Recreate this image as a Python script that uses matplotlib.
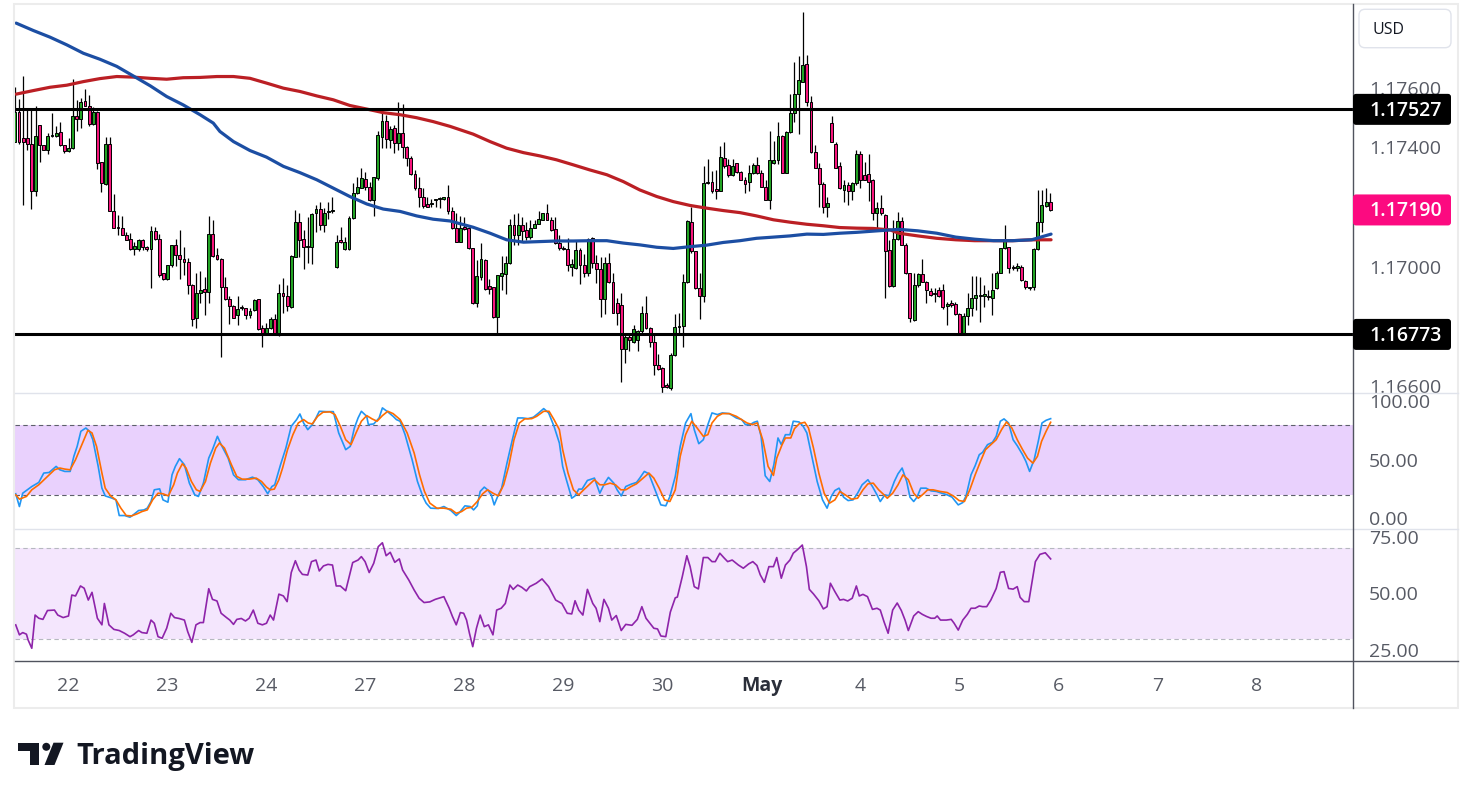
import numpy as np
import matplotlib
matplotlib.use('Agg')
import matplotlib.pyplot as plt
from matplotlib.patches import FancyBboxPatch, Rectangle, Circle, Polygon
from matplotlib.lines import Line2D
from matplotlib.transforms import IdentityTransform

plt.rcParams['font.family'] = ['Open Sans', 'DejaVu Sans']

# ---------------- data (hourly EUR/USD-like candles, prices in 1e-5 units) ----------------
open_pts = [117419,117518,117432,117432,117412,117255,117476,117406,117390,117438,117439,117450,117406,117386,117397,117506,
 117494,117556,117539,117478,117518,117350,117276,117410,117188,117131,117129,117105,117092,117058,117058,117090,117065,117058,
 117120,117092,116978,116958,117004,117072,117038,117027,117017,116939,116827,116911,116926,116914,117109,117038,117027,116931,
 116891,116868,116838,116864,116861,116837,116855,116891,116794,116779,116794,116823,116779,116911,116902,116864,117034,117149,
 117092,117065,117067,117179,117194,117138,117182,117187,117000,117090,117058,117058,117162,117246,117265,117293,117268,117224,
 117296,117436,117489,117425,117465,117414,117447,117400,117363,117311,117263,117233,117210,117210,117222,117227,117226,117232,
 117188,117131,117084,117134,117131,117062,116878,116967,117023,116935,116931,116831,116969,116976,117011,117139,117106,117139,
 117123,117099,117131,117143,117157,117179,117157,117125,117078,117064,117058,117000,116997,117056,117004,116978,117095,117011,
 116992,116891,117011,116948,116878,116872,116723,116763,116749,116754,116783,116846,116794,116747,116671,116662,116604,116593,
 116704,116797,116802,116947,117151,117051,116928,116900,117280,117285,117257,117255,117363,117339,117307,117347,117317,117291,
 117282,117313,117341,117313,117268,117224,117347,117358,117438,117315,117451,117514,117578,117620,117678,117550,117384,117332,
 117276,117199,117481,117412,117336,117257,117272,117254,117280,117378,117307,117311,117291,117179,117196,117174,117056,116936,
 117092,117153,117073,116978,116821,116937,116976,116950,116917,116911,116922,116922,116868,116878,116875,116842,116777,116833,
 116861,116894,116900,116902,116902,116894,116928,116980,117062,117067,117000,116995,117000,116953,116928,116931,117058,117151,
 117204,117218]
high_pts = [117601,117562,117639,117525,117525,117537,117476,117408,117447,117514,117470,117484,117408,117430,117628,117559,
 117565,117595,117576,117535,117520,117352,117436,117436,117244,117174,117171,117117,117112,117081,117092,117092,117070,117137,
 117132,117109,116980,117006,117072,117094,117123,117067,117030,116941,116978,116986,116967,117170,117157,117062,117029,116967,
 116900,116871,116902,116871,116863,116861,116892,116892,116805,116811,116830,116841,116942,116962,116939,117040,117190,117179,
 117123,117168,117179,117205,117218,117196,117218,117235,117106,117134,117099,117170,117280,117302,117331,117317,117285,117300,
 117456,117518,117509,117470,117475,117552,117544,117403,117371,117324,117302,117263,117233,117226,117226,117232,117235,117274,
 117201,117181,117170,117166,117134,117064,117023,117078,117025,116958,116933,116972,117036,117036,117160,117177,117181,117168,
 117151,117157,117155,117188,117179,117210,117168,117168,117106,117070,117095,117025,117088,117062,117043,117095,117099,117040,
 117034,117034,117045,116978,116894,116911,116774,116777,116805,116788,116869,116900,116799,116771,116708,116665,116609,116710,
 116841,116844,116976,117157,117199,117053,116978,117338,117360,117322,117324,117405,117419,117360,117360,117347,117319,117302,
 117341,117347,117369,117324,117291,117455,117421,117485,117441,117453,117578,117687,117706,117852,117710,117573,117406,117347,
 117285,117233,117505,117419,117352,117291,117285,117285,117391,117386,117349,117378,117293,117218,117241,117176,117090,117157,
 117184,117168,117078,116980,116978,116980,117025,116952,116928,116928,116933,116942,116883,116889,116883,116844,116844,116911,
 116969,116969,116967,116939,116922,116980,116984,117064,117140,117067,117006,117011,117006,116956,116933,117062,117257,117257,
 117263,117248]
low_pts = [117416,117412,117205,117391,117193,117238,117352,117390,117378,117436,117436,117403,117380,117385,117394,117454,
 117463,117537,117470,117475,117328,117250,117274,117188,117128,117105,117105,117088,117056,117038,117054,117056,117054,116927,
 117090,116965,116956,116956,117000,117002,116958,116971,116908,116802,116794,116878,116838,116878,117034,117023,116697,116889,
 116808,116827,116805,116855,116823,116827,116852,116788,116732,116777,116792,116777,116768,116844,116850,116861,117032,117032,
 116991,117011,117009,117115,117123,117115,117159,117179,116997,117079,117056,117056,117159,117244,117263,117257,117221,117170,
 117291,117397,117397,117397,117382,117391,117363,117336,117307,117257,117201,117196,117199,117201,117201,117196,117224,117177,
 117125,117084,117084,117123,117058,116876,116865,116956,116922,116909,116827,116779,116922,116909,117009,117073,117073,117084,
 117088,117092,117129,117142,117155,117155,117121,117076,117056,117056,116987,116969,116991,116942,116965,116969,116995,116944,
 116832,116842,116944,116844,116805,116615,116676,116716,116743,116719,116777,116792,116732,116637,116654,116576,116593,116587,
 116701,116777,116732,116944,117045,116924,116824,116880,117277,117248,117226,117252,117332,117302,117305,117315,117289,117248,
 117254,117311,117310,117266,117224,117193,117344,117344,117313,117313,117447,117486,117444,117618,117537,117380,117330,117201,
 117179,117168,117416,117330,117260,117218,117207,117224,117274,117263,117289,117221,117157,117120,117174,116894,116933,116931,
 117090,117071,116976,116816,116819,116933,116947,116878,116902,116883,116898,116857,116805,116866,116838,116775,116775,116805,
 116833,116855,116816,116866,116889,116838,116924,116978,117058,116978,116989,116984,116953,116924,116922,116922,117056,117115,
 117201,117185]
close_pts = [117518,117416,117416,117412,117255,117439,117406,117390,117439,117441,117447,117406,117386,117397,117506,117494,
 117553,117539,117478,117518,117347,117280,117410,117188,117131,117128,117106,117090,117058,117070,117088,117065,117058,117120,
 117092,116972,116958,117006,117072,117038,117027,117017,116939,116825,116911,116922,116914,117109,117036,117025,116931,116893,
 116868,116827,116857,116861,116838,116853,116889,116790,116779,116794,116823,116779,116911,116900,116868,117036,117149,117090,
 117067,117070,117176,117194,117140,117179,117188,117189,117082,117082,117082,117162,117246,117266,117296,117268,117224,117300,
 117442,117489,117428,117462,117414,117447,117400,117363,117310,117263,117233,117204,117201,117213,117224,117228,117232,117188,
 117129,117084,117131,117127,117062,116878,116969,117025,116924,116924,116831,116972,116978,117011,117139,117106,117139,117118,
 117100,117128,117143,117160,117179,117157,117123,117078,117062,117058,117006,117008,117056,117004,116978,117092,117011,116992,
 116891,117011,116950,116846,116846,116723,116765,116754,116790,116783,116846,116794,116747,116671,116656,116598,116596,116704,
 116797,116802,116947,117153,117051,116928,116902,117280,117285,117255,117255,117369,117336,117307,117336,117317,117291,117276,
 117313,117341,117313,117268,117224,117358,117358,117438,117315,117451,117514,117578,117626,117674,117550,117384,117332,117276,
 117199,117213,117419,117332,117263,117274,117254,117280,117378,117291,117291,117285,117179,117196,117179,117051,116936,117092,
 117153,117073,116978,116827,116939,116976,116950,116922,116905,116909,116900,116864,116875,116872,116842,116777,116835,116861,
 116894,116905,116905,116908,116897,116922,116980,117062,117092,116995,116995,117003,116956,116931,116933,117058,117151,117207,
 117218,117190]

# moving averages (read as polyline vertices: bar position, price in 1e-5 units)
ma_fast_x = [0.3,4.5,8.5,12.6,16.6,20.6,24.7,28.7,32.8,36.8,40.8,44.9,48.1,49.7,53,57,61,65.1,69.1,73.2,77.2,81.2,85.3,89.3,
 93.4,97.4,101.4,105.5,111.1,115.2,119.2,123.3,127.3,131.3,135.4,139.4,143.5,147.5,151.5,155.6,159.6,163.7,167.7,171.7,175.8,
 179.8,183.9,187.9,192,196,200,204.1,208.1,212.2,214.3,218.9,223.5,228.1,232.7,237.3,241.9,246.5,249.2,251.2]
ma_fast_pts = [117816,117791,117769,117743,117715,117695,117671,117639,117606,117570,117542,117509,117481,117453,117419,117389,
 117367,117336,117315,117291,117263,117235,117210,117193,117185,117170,117159,117153,117132,117112,117090,117082,117084,117086,
 117086,117087,117087,117079,117073,117065,117061,117067,117072,117081,117087,117095,117099,117103,117109,117108,117112,117115,
 117119,117123,117125,117120,117112,117099,117092,117087,117087,117090,117101,117109]
ma_slow_x = [0.3,4.5,8.5,12.6,16.6,20.6,24.7,28.7,32.8,36.8,40.8,44.9,49,53,57,61,65.1,69.1,73.2,77.2,81.2,85.3,89.3,93.4,
 97.4,101.4,105.5,111.1,115.2,119.2,123.3,127.3,131.3,135.4,139.4,143.5,147.5,151.5,155.6,159.6,163.7,167.7,171.7,175.8,179.8,
 183.9,187.9,192,196,200,204.1,208.1,212.2,214.3,218.9,223.5,228.1,232.7,237.3,241.9,246.5,251.2]
ma_slow_pts = [117578,117590,117601,117608,117620,117630,117637,117635,117631,117628,117633,117634,117637,117637,117631,117615,
 117598,117587,117572,117559,117540,117528,117516,117509,117499,117486,117470,117444,117419,117397,117382,117371,117358,117341,
 117324,117308,117285,117257,117235,117218,117205,117196,117188,117181,117170,117157,117149,117142,117137,117131,117129,117128,
 117123,117112,117103,117095,117090,117087,117087,117087,117090,117090]

resistance = 1.17527
support = 1.16773
last_price = 1.17190

# stochastic %K / %D (bar position, value)
stoch_k_x = [0.2,1.1,1.9,4.1,5.8,7.0,8.3,10.0,10.9,12.1,13.4,14.3,15.1,16.0,17.2,18.1,18.9,20.2,21.1,21.9,23.6,24.5,25.3,26.6,
 27.9,28.7,30.0,31.3,32.1,33.0,33.8,35.1,35.9,37.1,38.1,38.9,39.9,41.1,42.3,43.6,44.5,45.7,47.0,47.9,49.1,50.0,51.7,53.0,54.2,
 55.9,57.6,58.9,60.2,61.3,62.3,63.0,64.4,65.7,67.0,68.3,69.1,70.0,71.0,72.1,73.0,73.8,75.5,77.2,78.5,80.2,81.3,82.3,83.2,84.0,
 85.3,85.7,87.0,88.3,89.1,90.4,91.7,92.5,93.4,94.6,96.3,97.6,98.9,99.7,100.8,102.7,104.0,105.7,107.0,107.8,109.1,110.4,111.2,
 112.1,112.8,113.8,114.6,115.5,116.2,117.2,118.0,119.3,120.6,121.9,123.1,124.4,125.7,127.0,128.2,129.4,130.7,132.0,132.8,133.7,
 135.0,135.8,136.7,137.5,138.8,140.5,141.8,143.0,143.9,145.2,146.0,147.0,148.1,149.4,150.7,151.5,152.6,153.7,154.9,156.6,157.8,
 158.8,160.1,161.3,162.6,163.9,164.7,165.8,166.9,168.0,169.0,170.3,171.5,173.2,174.9,176.2,177.1,178.2,179.2,180.0,180.9,181.9,
 183.0,184.0,185.0,185.8,186.8,187.9,188.7,190.1,191.1,192.0,193.2,194.5,195.8,196.9,197.9,198.8,199.8,200.9,202.0,203.2,204.3,
 205.4,206.8,207.9,209.0,209.8,210.9,211.9,213.2,214.1,215.1,216.2,217.0,217.9,218.7,219.6,220.9,222.1,223.4,224.7,226.0,227.2,
 228.7,229.8,230.6,231.8,232.8,233.8,234.6,235.8,237.0,237.9,238.9,239.8,240.9,242.0,243.0,244.3,245.1,246.0,247.1,248.1,249.0,
 250.0,251.1]
stoch_k = [20.9,10.0,21.4,27.1,30.6,38.6,39.1,44.3,41.4,40.0,40.0,52.9,61.4,74.3,77.1,74.3,67.1,44.3,25.7,19.1,17.1,15.7,2.3,2.3,
 0.9,2.9,6.6,7.1,8.6,14.3,24.3,25.1,15.7,13.7,37.1,44.3,50.9,45.7,30.0,20.0,18.6,30.0,51.4,58.6,70.0,62.9,51.4,37.1,32.9,32.9,
 35.1,32.9,27.1,20.9,27.1,28.6,45.7,60.0,78.6,84.3,89.1,81.4,75.7,80.0,85.7,91.4,91.1,91.1,72.9,58.6,61.4,77.1,85.7,91.4,87.1,
 80.0,80.6,85.7,94.3,90.9,87.1,84.3,82.9,71.4,50.0,31.4,18.6,12.9,8.6,8.3,10.0,6.6,2.3,4.9,10.6,10.0,7.1,10.6,22.9,26.6,24.3,
 20.0,11.4,20.0,25.7,47.1,67.1,85.7,85.7,85.1,86.3,90.0,93.7,90.0,78.6,64.3,44.3,32.9,17.1,19.1,24.9,24.9,32.3,34.3,21.4,30.0,
 34.9,30.0,24.3,19.1,27.1,29.1,30.6,34.3,40.0,38.0,27.1,11.4,10.6,18.6,35.7,61.4,81.4,89.4,75.7,63.7,67.1,80.0,90.0,88.6,90.0,
 89.4,85.7,84.3,80.0,80.0,82.0,82.9,70.0,36.3,31.4,45.7,68.6,62.9,71.4,71.4,82.9,82.3,78.6,72.9,52.9,31.4,15.7,8.6,18.6,23.7,
 25.7,18.0,15.1,15.7,21.4,28.6,32.9,27.1,20.0,14.3,20.0,19.1,31.4,38.0,42.9,31.4,18.0,14.3,18.0,25.7,25.7,23.4,22.9,21.4,20.0,
 18.0,11.4,13.4,19.1,37.1,44.9,54.3,56.3,62.9,64.9,70.0,82.9,84.9,81.4,67.1,62.0,54.3,48.6,40.0,50.0,65.7,81.4,83.7,85.1]
stoch_d_x = [0.2,1.1,2.8,4.1,5.8,7.5,9.6,10.9,12.1,13.4,14.7,16.4,17.7,18.7,19.8,21.1,21.9,23.2,24.5,25.7,27.0,28.3,29.6,30.8,
 32.1,33.4,34.7,35.9,37.2,38.5,39.4,40.6,41.5,42.8,44.0,44.9,46.2,47.4,48.7,49.6,50.8,52.5,53.8,55.1,56.8,58.5,59.8,61.0,61.9,
 62.9,64.0,64.9,66.1,67.4,68.7,70.0,71.1,72.1,73.4,74.7,76.4,77.6,78.9,80.2,81.5,82.7,84.0,85.3,86.6,87.8,89.1,90.4,91.7,93.4,
 95.1,96.8,98.1,99.3,100.6,102.3,104.0,105.7,107.0,108.3,109.5,110.8,112.1,113.4,114.6,115.9,117.2,118.5,119.7,121.0,122.3,
 123.6,125.3,126.5,128.2,129.5,130.7,132.0,132.8,134.1,135.4,136.7,137.9,139.2,140.5,141.8,143.0,144.3,145.6,146.9,148.1,149.4,
 150.7,152.0,153.7,154.9,156.2,157.5,158.8,160.1,161.3,162.6,164.1,165.4,166.9,168.0,169.0,170.3,171.5,173.2,174.9,176.2,177.5,
 178.8,180.0,181.3,182.6,183.9,184.7,186.0,186.8,188.1,189.0,190.2,191.5,192.4,193.6,194.9,196.2,197.5,198.8,200.0,201.3,202.8,
 204.3,205.6,206.8,208.1,209.4,210.7,211.5,212.8,214.1,215.3,216.6,217.9,219.0,220.0,221.3,222.6,224.3,226.0,227.7,228.9,230.2,
 231.5,232.8,234.1,235.3,236.6,237.9,239.2,240.4,241.7,243.0,244.3,245.5,246.8,247.9,248.9,250.0,251.1]
stoch_d = [20.0,16.3,18.6,24.3,28.6,34.3,41.4,42.9,42.0,41.4,50.0,64.3,75.1,72.9,61.4,38.6,25.7,19.1,15.7,8.6,2.3,2.0,3.7,5.7,
 7.1,15.7,21.4,20.9,19.1,28.6,38.6,46.6,42.9,31.4,24.3,22.9,31.4,47.1,60.0,64.3,60.0,45.7,35.7,33.4,33.4,34.3,31.4,26.6,24.3,
 24.9,32.9,42.9,58.6,71.4,81.4,84.3,81.4,80.6,87.1,90.6,90.9,88.6,78.6,67.1,62.9,72.9,82.9,87.7,84.9,82.9,87.7,91.4,89.4,84.3,
 72.9,55.7,37.1,22.9,12.9,8.6,8.6,7.7,4.3,5.7,8.6,9.4,14.3,20.9,24.3,21.4,19.1,28.6,44.3,67.1,81.4,84.9,85.1,87.1,91.4,91.4,
 84.3,75.7,58.6,38.6,24.3,20.0,24.3,28.6,32.9,28.6,28.6,30.0,28.6,24.3,24.3,27.1,29.4,33.4,38.6,34.3,25.7,15.7,14.3,24.3,52.9,
 71.4,82.9,77.1,70.0,71.4,81.4,87.1,89.4,89.4,87.1,84.3,81.4,80.0,81.4,67.1,44.3,36.6,51.4,62.9,68.6,68.6,76.6,80.9,82.0,77.1,
 60.0,38.6,21.4,12.9,15.7,22.9,20.0,16.3,17.1,24.3,29.4,30.0,24.3,20.0,17.1,21.4,28.6,37.1,32.9,21.4,17.1,20.0,24.3,24.3,22.9,
 22.0,18.6,15.1,14.3,24.3,37.1,48.6,58.6,62.9,67.1,75.7,82.3,77.1,67.1,58.6,51.4,47.1,52.9,65.7,74.3,82.0]

# RSI (bar position, value)
rsi_x = [0.2,1.1,1.9,2.8,3.2,4.1,4.9,5.8,6.8,7.9,9.6,10.4,11.7,13.0,13.8,14.7,15.9,16.8,17.8,18.7,20.0,21.1,21.7,22.8,24.0,25.3,
 26.6,27.9,28.7,30.0,30.8,32.0,33.0,33.8,34.7,35.7,36.8,37.8,38.7,39.8,41.1,41.9,42.9,43.9,44.9,45.7,47.0,47.9,49.0,50.0,51.3,
 52.1,53.0,53.8,54.9,55.9,56.8,57.8,58.9,60.0,61.0,61.9,62.7,64.0,65.1,66.0,67.0,68.0,68.9,69.7,71.0,71.9,73.0,73.8,74.8,75.9,
 77.0,77.9,78.9,80.2,81.9,83.2,84.0,84.9,85.9,87.0,88.1,89.1,90.0,91.0,92.1,93.2,94.0,95.5,96.8,98.0,99.2,100.6,101.9,104.0,
 105.3,106.1,107.0,108.0,108.8,109.5,110.2,111.0,111.9,112.8,113.8,114.8,115.9,116.8,117.9,118.9,120.0,120.8,121.9,122.9,124.0,
 124.8,126.4,127.8,129.4,131.1,132.6,133.9,135.0,135.8,136.7,137.7,138.8,140.1,140.9,141.8,142.8,143.9,144.7,145.8,147.0,148.1,
 149.6,150.9,152.0,153.0,154.9,155.8,156.6,157.8,158.9,160.1,160.6,161.8,162.9,163.7,164.7,165.7,166.9,168.0,169.0,169.8,170.9,
 172.0,172.8,173.9,175.4,176.6,177.9,178.9,179.9,180.7,181.7,182.8,183.9,184.7,185.8,186.8,187.9,188.7,189.8,190.9,191.9,192.6,
 193.6,194.9,196.0,196.9,197.7,198.8,200.0,200.9,201.9,203.0,204.0,204.7,205.6,206.7,207.9,209.0,209.8,210.7,211.7,212.8,213.9,
 214.9,215.8,216.6,217.9,219.0,220.0,221.0,222.1,223.0,223.6,224.4,225.8,227.0,227.7,228.7,229.8,230.9,231.8,232.8,233.8,234.6,
 235.6,236.6,237.9,238.9,239.8,240.9,242.0,243.0,243.7,244.7,245.8,246.6,247.4,248.5,249.8,251.1]
rsi = [36.2,31.8,32.8,32.1,29.6,25.9,40.5,39.1,38.6,42.5,42.7,40.5,39.4,40.1,49.3,48.9,53.3,52.3,47.1,50.5,39.1,36.2,45.6,36.2,
 34.2,33.7,32.5,31.0,31.8,33.7,32.8,32.5,38.3,36.9,31.0,30.3,34.7,41.3,39.4,39.0,38.3,33.2,28.5,36.2,37.2,37.2,52.1,47.4,46.7,
 41.3,39.4,38.3,36.4,38.6,39.0,37.9,39.1,42.7,36.9,36.2,36.9,40.5,38.3,49.7,48.9,46.4,59.2,64.4,60.3,58.4,58.1,64.0,64.7,59.9,
 62.1,62.8,62.5,53.3,53.3,51.2,63.6,64.7,66.2,64.0,59.2,63.3,70.6,72.3,66.6,68.1,63.7,65.2,60.3,55.9,51.5,47.9,46.0,46.3,47.4,
 48.6,43.5,39.8,36.2,41.6,41.3,38.3,32.5,26.6,34.7,40.5,35.4,36.2,31.8,42.7,43.5,45.6,53.7,51.8,53.7,52.7,51.1,53.0,54.5,56.4,
 53.0,47.1,45.6,41.3,41.0,46.8,42.7,40.5,51.8,45.6,43.5,37.6,47.4,43.5,38.3,40.3,33.7,36.4,36.0,38.6,44.2,39.1,34.7,34.4,31.3,
 31.0,41.8,48.1,48.4,57.4,66.6,61.8,53.0,52.0,65.8,65.8,64.0,64.0,67.7,65.5,64.0,64.7,62.5,61.1,63.0,64.0,62.3,58.2,54.9,61.8,
 61.8,65.8,56.7,62.5,64.7,67.7,69.4,71.3,61.8,51.8,49.8,46.8,43.2,44.2,54.5,50.8,47.1,47.4,46.7,47.9,53.3,48.9,49.6,48.6,43.0,
 43.5,42.7,37.6,32.5,42.7,45.8,42.5,38.3,33.7,40.1,42.0,40.8,39.9,39.1,39.1,40.1,38.3,38.3,38.6,36.9,33.9,38.3,40.8,43.5,43.5,
 44.5,44.2,44.2,47.1,52.2,59.3,59.6,52.2,51.9,53.0,48.3,46.4,46.4,55.2,64.0,67.2,67.9,65.2]

day_ticks = [13, 37, 61, 85, 109, 133, 157, 181, 205, 229, 253, 277, 301]
day_labels = ['22', '23', '24', '27', '28', '29', '30', 'May', '4', '5', '6', '7', '8']
price_ticks = [1.166, 1.170, 1.174, 1.176]
stoch_ticks = [0, 50, 100]
rsi_ticks = [25, 50, 75]

# ---------------- figure ----------------
W, H = 1473, 799
fig = plt.figure(figsize=(W / 100, H / 100), dpi=100)
fig.patch.set_facecolor('white')

def rect(x0, y0, x1, y1):
    return [x0 / W, 1 - y1 / H, (x1 - x0) / W, (y1 - y0) / H]

PT = 1e-5
o = np.array(open_pts) * PT
h = np.array(high_pts) * PT
l = np.array(low_pts) * PT
c = np.array(close_pts) * PT
x = np.arange(len(o))

XL = (0.03, 324.4)
GREEN = '#22a324'
PINK = '#f7157c'
TXT = '#575a64'

ax = fig.add_axes(rect(15, 4, 1353, 393.5))
ax2 = fig.add_axes(rect(15, 393.5, 1353, 529))
ax3 = fig.add_axes(rect(15, 529, 1353, 661))
for a in (ax, ax2, ax3):
    a.set_xlim(*XL)
    a.set_xticks([]); a.set_yticks([])
    for s in a.spines.values():
        s.set_visible(False)
    a.set_facecolor('none')

ax.set_ylim(1.16575, 1.17880)
ax2.set_ylim(-9.2, 106.6)
ax3.set_ylim(20.3, 78.35)

# candles
up = c >= o
cols = np.where(up, GREEN, PINK)
bot = np.minimum(o, c)
hgt = np.maximum(np.abs(c - o), 0.000035)
ax.vlines(x, l, h, color='black', lw=0.9, zorder=2)
ax.bar(x, hgt, bottom=bot, width=0.72, color=cols, edgecolor='black', linewidth=0.7, zorder=3)

# moving averages
ax.plot(ma_slow_x, np.array(ma_slow_pts) * PT, color='#bb1f24', lw=2.3, zorder=4, solid_capstyle='round')
ax.plot(ma_fast_x, np.array(ma_fast_pts) * PT, color='#1c4ea3', lw=2.3, zorder=4, solid_capstyle='round')

# support / resistance
ax.axhline(resistance, color='black', lw=2.2, zorder=5)
ax.axhline(support, color='black', lw=2.2, zorder=5)

# stochastic
ax2.axhspan(20, 80, color='#e9d1fd', lw=0, zorder=0)
for v in (20, 80):
    ax2.axhline(v, color='#5d606b', lw=0.8, ls=(0, (4, 3)), zorder=1)
ax2.plot(stoch_k_x, stoch_k, color='#2196f3', lw=1.2, zorder=3)
ax2.plot(stoch_d_x, stoch_d, color='#ff6d00', lw=1.2, zorder=4)

# RSI
ax3.axhspan(30, 70, color='#f4e6fd', lw=0, zorder=0)
for v in (30, 70):
    ax3.axhline(v, color='#b6b8c0', lw=0.8, ls=(0, (4, 3)), zorder=1)
ax3.plot(rsi_x, rsi, color='#8e24aa', lw=1.2, zorder=3)

# ---------------- frame & separators ----------------
fig.add_artist(Rectangle((14 / W, 1 - 708 / H), (1458 - 14) / W, (708 - 3.5) / H,
                         transform=fig.transFigure, fill=False, edgecolor='#ececec', lw=1.5))
for yy in (393.5, 529):
    fig.add_artist(Line2D([15 / W, 1458 / W], [1 - yy / H] * 2, transform=fig.transFigure, color='#e0e3eb', lw=1))
fig.add_artist(Line2D([15 / W, 1458 / W], [1 - 661 / H] * 2, transform=fig.transFigure, color='#50535e', lw=1))
fig.add_artist(Line2D([1353 / W] * 2, [1 - 4 / H, 1 - 708 / H], transform=fig.transFigure, color='#50535e', lw=1))

fig.canvas.draw()

def ypix(a, v):
    return a.transData.transform((0, v))[1]

def xpix(a, v):
    return a.transData.transform((v, 0))[0]

LBL_X = 1369 / W
FS = 14
DY = 2.0   # small downward nudge of label text (pixels)
for t in price_ticks:
    fig.text(LBL_X, (ypix(ax, t) - DY) / H, f'{t:.5f}', fontsize=FS, color=TXT, ha='left', va='center', zorder=1)
for t in stoch_ticks:
    fig.text(LBL_X, (ypix(ax2, t) - DY) / H, f'{t:.2f}', fontsize=FS, color=TXT, ha='left', va='center', zorder=1)
for t in rsi_ticks:
    fig.text(LBL_X, (ypix(ax3, t) - DY) / H, f'{t:.2f}', fontsize=FS, color=TXT, ha='left', va='center', zorder=1)

def price_box(v, color):
    yp = ypix(ax, v)
    fig.add_artist(FancyBboxPatch((1353, yp - 15.5), 98, 31, boxstyle='round,pad=0,rounding_size=3',
                                  transform=IdentityTransform(), facecolor=color, edgecolor='none', zorder=5))
    fig.text(LBL_X, (yp - 1.5) / H, f'{v:.5f}', fontsize=FS, color='white', ha='left', va='center', zorder=6,
             fontweight='semibold')

price_box(resistance, 'black')
price_box(last_price, '#fc0a80')
price_box(support, 'black')

# USD box
fig.add_artist(FancyBboxPatch((1359, H - 47.7), 92, 38.4, boxstyle='round,pad=0,rounding_size=6',
                              transform=IdentityTransform(), facecolor='white', edgecolor='#e0e3eb', lw=1, zorder=5))
fig.text(1373 / W, 1 - 30 / H, 'USD', fontsize=11.5, color='#131722', ha='left', va='center', zorder=6)

# x-axis day labels
for t, lab in zip(day_ticks, day_labels):
    fig.text(xpix(ax3, t) / W, 1 - 686 / H, lab, fontsize=FS, color=TXT if lab != 'May' else '#2a2e39',
             ha='center', va='center', fontweight='bold' if lab == 'May' else 'normal')

# TradingView logo
INK = '#131722'
fig.add_artist(Polygon([(18.3, H - 742.7), (39.3, H - 742.7), (39.3, H - 765), (30, H - 765), (30, H - 750.7),
                        (18.3, H - 750.7)], closed=True, transform=IdentityTransform(), facecolor=INK,
                       edgecolor='none'))
fig.add_artist(Circle((46.3, H - 746.8), 4.0, transform=IdentityTransform(), facecolor=INK, edgecolor='none'))
fig.add_artist(Polygon([(53.5, H - 742.7), (63.5, H - 742.7), (54.5, H - 765), (44.5, H - 765)], closed=True,
                       transform=IdentityTransform(), facecolor=INK, edgecolor='none'))
fig.text(76 / W, 1 - 764.3 / H, 'TradingView', fontsize=21, fontweight='bold', color=INK, ha='left', va='baseline')

fig.savefig('out.png', dpi=100, facecolor='white')
